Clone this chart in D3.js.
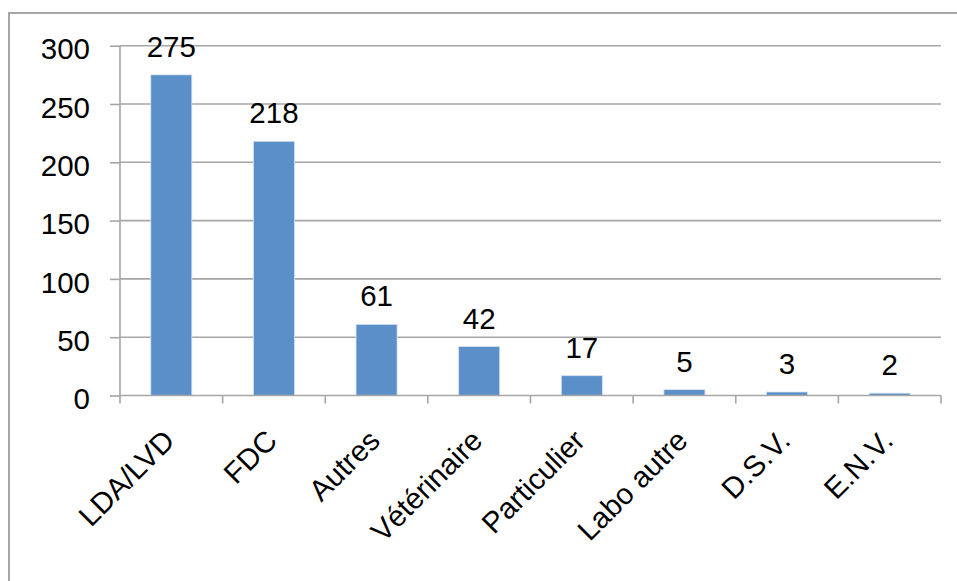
<!DOCTYPE html>
<html><head><meta charset="utf-8">
<script src="https://cdn.jsdelivr.net/npm/d3@7"></script>
<style>body{margin:0;background:#fff}svg{display:block}</style>
</head><body>
<svg id="c" width="957" height="581"></svg>
<script>
const categories = ["LDA/LVD","FDC","Autres","Vétérinaire","Particulier","Labo autre","D.S.V.","E.N.V."];
const values = [275,218,61,42,17,5,3,2];
const yTicks = [0,50,100,150,200,250,300];

(function(){
const svg = d3.select("#c");
const font = "'Liberation Sans', Arial, sans-serif";
const pl = 120, pr = 941, pt = 45.7, pb = 395.5;

svg.append("rect").attr("x",9).attr("y",13).attr("width",960).attr("height",600)
  .attr("fill","#fff").attr("stroke","#a6a6a6").attr("stroke-width",2);

const x = d3.scaleBand().domain(categories).range([pl,pr]).paddingInner(0.6).paddingOuter(0.3);
const xc = d3.scaleBand().domain(categories).range([pl,pr]);
const y = d3.scaleLinear().domain([0,300]).range([pb,pt]);

// gridlines
svg.append("g").selectAll("line").data(yTicks.filter(d=>d>0)).join("line")
  .attr("x1",pl).attr("x2",pr).attr("y1",d=>y(d)).attr("y2",d=>y(d))
  .attr("stroke","#a6a6a6").attr("stroke-width",1.6);

// y axis
const ya = svg.append("g").attr("transform",`translate(${pl},0)`)
  .call(d3.axisLeft(y).tickValues(yTicks).tickSize(10).tickPadding(20));
ya.select(".domain").attr("stroke","#a6a6a6").attr("stroke-width",1.6).attr("d",`M0,${pt}V${pb}`);
ya.selectAll(".tick line").attr("stroke","#a6a6a6").attr("stroke-width",1.6);
ya.selectAll(".tick text").attr("font-family",font).attr("font-size",29.5).attr("fill","#000").attr("dy","0.45em");

// bars
svg.append("g").selectAll("rect").data(values).join("rect")
  .attr("x",(d,i)=>x(categories[i])).attr("width",x.bandwidth())
  .attr("y",d=>y(d)).attr("height",d=>y(0)-y(d))
  .attr("fill","#5b8fc7").attr("stroke","#d6e3f1").attr("stroke-width",0.8);

// x axis
const xa = svg.append("g").attr("transform",`translate(0,${pb})`);
xa.append("line").attr("x1",pl).attr("x2",pr).attr("stroke","#a6a6a6").attr("stroke-width",1.6);
const edges = categories.map(c=>xc(c)).concat([pr]);
xa.selectAll(".t").data(edges).join("line").attr("class","t")
  .attr("x1",d=>d).attr("x2",d=>d).attr("y1",0).attr("y2",8)
  .attr("stroke","#a6a6a6").attr("stroke-width",1.6);

// category labels
svg.append("g").selectAll("text").data(categories).join("text")
  .attr("transform",d=>`translate(${xc(d)+xc.bandwidth()/2+5},${pb+47}) rotate(-45)`)
  .attr("text-anchor","end").attr("font-family",font).attr("font-size",29.5).attr("fill","#000")
  .text(d=>d);

// value labels
svg.append("g").selectAll("text").data(values).join("text")
  .attr("x",(d,i)=>x(categories[i])+x.bandwidth()/2).attr("y",d=>y(d)-18)
  .attr("text-anchor","middle").attr("font-family",font).attr("font-size",29.5).attr("fill","#000")
  .text(d=>d);
})();
</script>
</body></html>
